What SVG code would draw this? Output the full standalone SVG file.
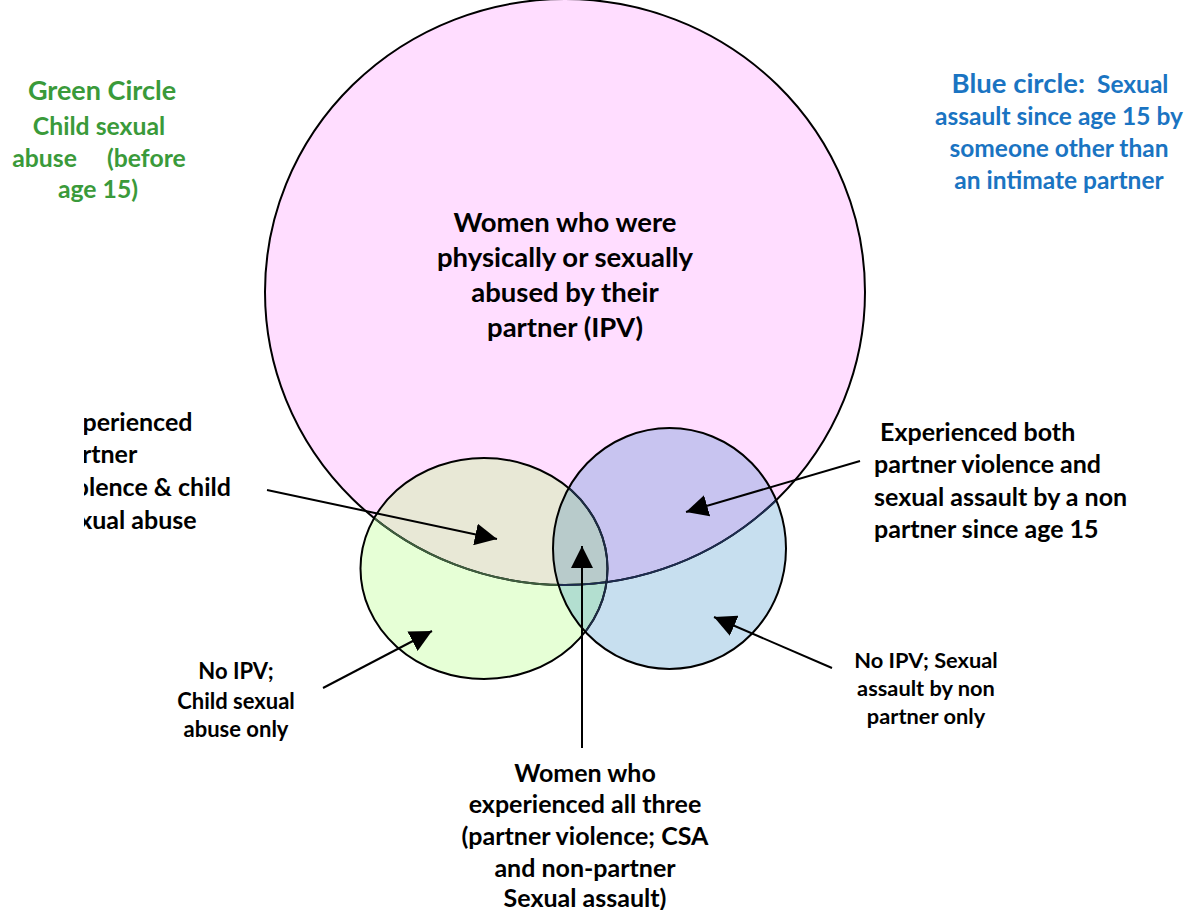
<svg xmlns="http://www.w3.org/2000/svg" width="1195" height="910" viewBox="0 0 1195 910">
<style>
text{font-family:Lato,"Liberation Sans",sans-serif;font-weight:700;fill:#000}
.c{text-anchor:middle}
.g{fill:#3a9a3a}
.b{fill:#1a74c2}
.line{stroke:#000;stroke-width:2;fill:none}
</style>
<defs>
<ellipse id="pinkE" cx="565" cy="292" rx="300" ry="293"/>
<ellipse id="greenE" cx="484" cy="568.5" rx="123.5" ry="110.5"/>
<ellipse id="blueE" cx="669.5" cy="548.5" rx="116.5" ry="120.5"/>
<clipPath id="cpPink"><use href="#pinkE"/></clipPath>
<clipPath id="cpGreen"><use href="#greenE"/></clipPath>
<clipPath id="cpBlue"><use href="#blueE"/></clipPath>
<clipPath id="cpLeft"><rect x="84" y="380" width="300" height="200"/></clipPath>
<marker id="ah" markerUnits="userSpaceOnUse" markerWidth="24" markerHeight="22" refX="22" refY="11" orient="auto">
<path d="M0,0 L22,11 L0,22 z" fill="#000"/>
</marker>
</defs>
<g id="pink-circle">
<use href="#pinkE" fill="#ffddff"/>
</g>
<g id="green-circle">
<use href="#greenE" fill="#e6ffd6"/>
<g clip-path="url(#cpPink)"><use href="#greenE" fill="#e8e8d6"/></g>
</g>
<g id="blue-circle">
<use href="#blueE" fill="#c7dfef"/>
<g clip-path="url(#cpPink)"><use href="#blueE" fill="#c8c4f0"/></g>
<g clip-path="url(#cpGreen)"><use href="#blueE" fill="#b3dfd0"/></g>
<g clip-path="url(#cpGreen)"><g clip-path="url(#cpPink)"><use href="#blueE" fill="#b8cbcb"/></g></g>
</g>
<g id="outlines">
<use href="#pinkE" class="line"/>
<g clip-path="url(#cpGreen)"><use href="#pinkE" fill="none" stroke="#3e5e3e" stroke-width="2"/></g>
<g clip-path="url(#cpBlue)"><use href="#pinkE" fill="none" stroke="#1c2c50" stroke-width="2"/></g>
<use href="#greenE" class="line"/>
<g clip-path="url(#cpBlue)"><use href="#greenE" fill="none" stroke="#1c2c44" stroke-width="2"/></g>
<use href="#blueE" class="line"/>
</g>
<g id="connectors">
<line x1="267" y1="490" x2="497" y2="539" class="line" marker-end="url(#ah)"/>
<line x1="323" y1="688" x2="432" y2="631" class="line" marker-end="url(#ah)"/>
<line x1="582" y1="748" x2="582" y2="546" class="line" marker-end="url(#ah)"/>
<line x1="860" y1="461" x2="686" y2="512" class="line" marker-end="url(#ah)"/>
<line x1="832" y1="668" x2="714" y2="617" class="line" marker-end="url(#ah)"/>
</g>
<g id="label-ipv" font-size="27.5">
<text class="c" x="565" y="232">Women who were</text>
<text class="c" x="565" y="267">physically or sexually</text>
<text class="c" x="565" y="302">abused by their</text>
<text class="c" x="565" y="337">partner (IPV)</text>
</g>
<g id="label-green">
<text class="c g" x="102" y="100" font-size="27">Green Circle</text>
<text class="c g" x="99" y="135" font-size="24.75">Child sexual</text>
<text class="c g" x="99" y="167" font-size="24.75" xml:space="preserve">abuse     (before</text>
<text class="c g" x="98" y="198" font-size="24.75">age 15)</text>
</g>
<g id="label-blue" font-size="24.5">
<text class="c b" x="1060" y="93" xml:space="preserve"><tspan font-size="27.5">Blue circle:</tspan>  Sexual</text>
<text class="c b" x="1059" y="125">assault since age 15 by</text>
<text class="c b" x="1059" y="157">someone other than</text>
<text class="c b" x="1059" y="189">an intimate partner</text>
</g>
<g id="label-ipv-csa" font-size="25" clip-path="url(#cpLeft)">
<text x="55" y="431">Experienced</text>
<text x="55" y="463">partner</text>
<text x="55" y="496">violence &amp; child</text>
<text x="55" y="529">sexual abuse</text>
</g>
<g id="label-ipv-sa" font-size="25">
<text x="880" y="440.5">Experienced both</text>
<text x="874" y="472.5">partner violence and</text>
<text x="874" y="505.5">sexual assault by a non</text>
<text x="874" y="537.5">partner since age 15</text>
</g>
<g id="label-csa-only" font-size="22">
<text class="c" x="236" y="679">No IPV;</text>
<text class="c" x="236" y="709">Child sexual</text>
<text class="c" x="236" y="737">abuse only</text>
</g>
<g id="label-sa-only" font-size="21.8">
<text class="c" x="926" y="668">No IPV; Sexual</text>
<text class="c" x="926" y="696">assault by non</text>
<text class="c" x="926" y="724">partner only</text>
</g>
<g id="label-all-three" font-size="25">
<text class="c" x="585" y="782">Women who</text>
<text class="c" x="585" y="813">experienced all three</text>
<text class="c" x="585" y="845">(partner violence; CSA</text>
<text class="c" x="585" y="877">and non-partner</text>
<text class="c" x="585" y="907">Sexual assault)</text>
</g>
</svg>
